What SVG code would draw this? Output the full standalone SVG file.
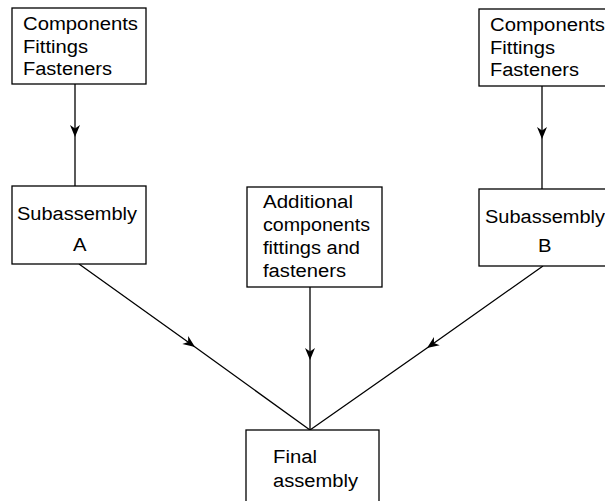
<svg xmlns="http://www.w3.org/2000/svg" width="605" height="501" viewBox="0 0 605 501">
<style>
.box{fill:#fff;stroke:#000;stroke-width:1.3}
.t{font-family:"Liberation Sans",Arial,sans-serif;font-size:18px;fill:#000}
.c{fill:none;stroke:#000;stroke-width:1.3;marker-mid:url(#ah)}
</style>
<defs>
<marker id="ah" markerUnits="userSpaceOnUse" markerWidth="16" markerHeight="14" viewBox="-14 -7 16 14" refX="0" refY="0" orient="auto">
<path d="M0,0 L-12,-5 L-8.5,0 L-12,5 Z" fill="#000"/>
</marker>
</defs>
<rect width="605" height="501" fill="#fff"/>
<g id="connectors">
<polyline class="c" points="75,84 75,137 75,186"/>
<polyline class="c" points="542,86 542,139 542,189"/>
<polyline class="c" points="79,264 195,347 310,430"/>
<polyline class="c" points="543,266 427,348 310,430"/>
<polyline class="c" points="310,287 310,360 310,430"/>
</g>
<g id="parts-left">
<rect class="box" x="12" y="8" width="134" height="76"/>
<text class="t" x="23" y="30" textLength="115" lengthAdjust="spacingAndGlyphs">Components</text>
<text class="t" x="23" y="52.5" textLength="65" lengthAdjust="spacingAndGlyphs">Fittings</text>
<text class="t" x="23" y="75" textLength="89" lengthAdjust="spacingAndGlyphs">Fasteners</text>
</g>
<g id="parts-right">
<rect class="box" x="479" y="9" width="130" height="77"/>
<text class="t" x="490" y="31" textLength="115" lengthAdjust="spacingAndGlyphs">Components</text>
<text class="t" x="490" y="53.5" textLength="65" lengthAdjust="spacingAndGlyphs">Fittings</text>
<text class="t" x="490" y="76" textLength="89" lengthAdjust="spacingAndGlyphs">Fasteners</text>
</g>
<g id="subassembly-a">
<rect class="box" x="12" y="186" width="134" height="78"/>
<text class="t" x="17" y="220" textLength="120" lengthAdjust="spacingAndGlyphs">Subassembly</text>
<text class="t" x="73" y="251" textLength="13.5" lengthAdjust="spacingAndGlyphs">A</text>
</g>
<g id="subassembly-b">
<rect class="box" x="479" y="189" width="130" height="77"/>
<text class="t" x="485" y="223" textLength="120" lengthAdjust="spacingAndGlyphs">Subassembly</text>
<text class="t" x="538" y="252" textLength="13.5" lengthAdjust="spacingAndGlyphs">B</text>
</g>
<g id="additional">
<rect class="box" x="247" y="187" width="135" height="100"/>
<text class="t" x="263" y="208" textLength="90" lengthAdjust="spacingAndGlyphs">Additional</text>
<text class="t" x="263" y="231" textLength="107" lengthAdjust="spacingAndGlyphs">components</text>
<text class="t" x="263" y="254" textLength="97" lengthAdjust="spacingAndGlyphs">fittings and</text>
<text class="t" x="263" y="277" textLength="83" lengthAdjust="spacingAndGlyphs">fasteners</text>
</g>
<g id="final">
<rect class="box" x="246" y="430" width="133" height="80"/>
<text class="t" x="273" y="463" textLength="44" lengthAdjust="spacingAndGlyphs">Final</text>
<text class="t" x="273" y="487" textLength="85" lengthAdjust="spacingAndGlyphs">assembly</text>
</g>
</svg>
